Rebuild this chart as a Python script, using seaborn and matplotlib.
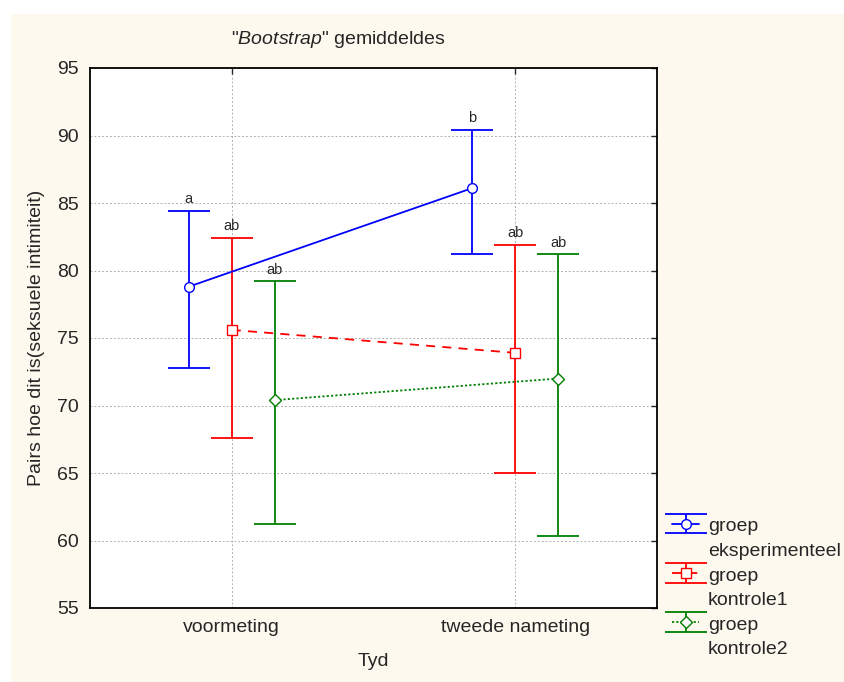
import numpy as np
import seaborn as sns
import matplotlib.pyplot as plt
from matplotlib.patches import Rectangle
from matplotlib.lines import Line2D
from matplotlib.legend_handler import HandlerTuple

# data
tyd = ["voormeting", "tweede nameting"]
groepe = [("groep", "eksperimenteel"), ("groep", "kontrole1"), ("groep", "kontrole2")]
gem_eksp = [78.8, 86.1]
bo_eksp = [84.4, 90.4]
onder_eksp = [72.8, 81.2]
gem_k1 = [75.6, 73.9]
bo_k1 = [82.4, 81.9]
onder_k1 = [67.6, 65.0]
gem_k2 = [70.4, 72.0]
bo_k2 = [79.2, 81.2]
onder_k2 = [61.2, 60.3]
letters_eksp = ["a", "b"]
letters_k1 = ["ab", "ab"]
letters_k2 = ["ab", "ab"]

sns.set_style("white")
plt.rcParams['font.family'] = ['Liberation Sans', 'DejaVu Sans']
plt.rcParams['mathtext.fontset'] = 'custom'
plt.rcParams['mathtext.rm'] = 'Liberation Sans'
plt.rcParams['mathtext.it'] = 'Liberation Sans:italic'

fig = plt.figure(figsize=(8.45, 6.82), dpi=100)
fig.patch.set_facecolor("white")
fig.patches.append(Rectangle((11 / 845, 0), 1, 1 - 14 / 682, transform=fig.transFigure,
                             facecolor="#fdf9ee", edgecolor="none", zorder=-10))
ax = fig.add_axes([90 / 845, 1 - 608 / 682, 567 / 845, 540 / 682])
ax.set_facecolor("white")

reeks = [
    (gem_eksp, bo_eksp, onder_eksp, letters_eksp, "#0000ff", "-", "o", -0.152),
    (gem_k1, bo_k1, onder_k1, letters_k1, "#ff0000", (0, (5, 4)), "s", 0.0),
    (gem_k2, bo_k2, onder_k2, letters_k2, "#008000", (0, (1.2, 1.2)), "D", 0.152),
]

handles = []
for gem, bo, onder, letters, kleur, ls, mk, dx in reeks:
    x = np.arange(len(tyd)) + dx
    gem = np.array(gem)
    yerr = [gem - np.array(onder), np.array(bo) - gem]
    eb = ax.errorbar(x, gem, yerr=yerr, fmt="none", ecolor=kleur, elinewidth=1.3,
                     capsize=15, capthick=1.3, zorder=2)
    sns.lineplot(x=x, y=gem, ax=ax, color=kleur, linestyle=ls, linewidth=1.3,
                 marker=mk, markersize=7 if mk != "D" else 6,
                 markerfacecolor="white", markeredgecolor=kleur, markeredgewidth=1.0,
                 zorder=3)
    handles.append((eb, ax.lines[-1]))
    for xi, b, t in zip(x, bo, letters):
        ax.text(xi, b + 0.35, t, ha="center", va="bottom", fontsize=10.5)

ax.set_xlim(-0.5, 1.5)
ax.set_ylim(55, 95)
ax.set_xticks([0, 1])
ax.set_xticklabels(tyd, fontsize=14)
ax.set_yticks(np.arange(55, 96, 5))
ax.tick_params(axis="y", labelsize=14)
ax.tick_params(direction="in", length=4, width=1, top=True, right=True, pad=8)
ax.grid(True, color="#b0b0b0", linestyle=(0, (2, 2)), linewidth=0.7)
for s in ax.spines.values():
    s.set_color("black")
    s.set_linewidth(1.3)

ax.set_xlabel("Tyd", fontsize=14, labelpad=12)
ax.set_ylabel("Pairs hoe dit is(seksuele intimiteit)", fontsize=14, labelpad=9)
fig.text(338 / 845, 1 - 40 / 682, '"$\\it{Bootstrap}$" gemiddeldes', ha="center",
         va="center", fontsize=14)

# legend: handle next to "groep", second line without handle
leeg = Line2D([], [], alpha=0)
leg_h, leg_l = [], []
for h, (a, b) in zip(handles, groepe):
    leg_h += [h, leeg]
    leg_l += [a, b]
ax.legend(leg_h, leg_l, handler_map={tuple: HandlerTuple(ndivide=1)},
          loc="upper left", bbox_to_anchor=(672 / 845, 1 - 516 / 682),
          bbox_transform=fig.transFigure, frameon=False, fontsize=14,
          handlelength=1.4, handleheight=1.0, handletextpad=0.45, labelspacing=0.27,
          borderaxespad=0, borderpad=0)

fig.savefig("out.png", dpi=100, facecolor=fig.get_facecolor())
